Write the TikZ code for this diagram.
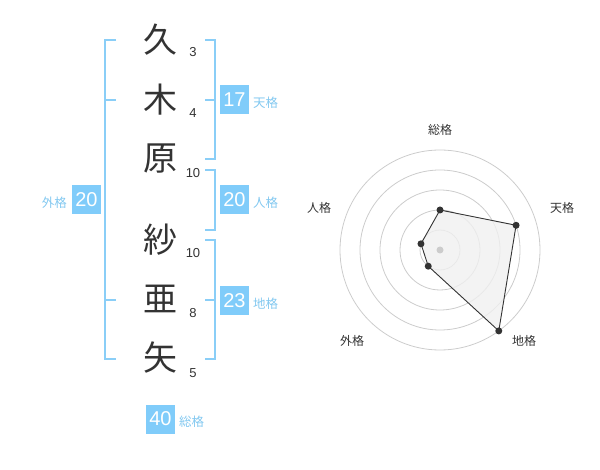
\documentclass[tikz,border=0pt]{standalone}
\usepackage{fontspec}
\usetikzlibrary{calc}
\setmainfont{Liberation Sans}
\newfontfamily\cjk{Noto Sans CJK JP}
\definecolor{boxblue}{RGB}{128,204,250}
\definecolor{brblue}{RGB}{138,206,247}
\definecolor{lblblue}{RGB}{130,200,240}
\definecolor{dark}{RGB}{51,51,51}
\definecolor{ring}{RGB}{204,204,204}
\definecolor{polyfill}{RGB}{240,240,240}
\begin{document}
\begin{tikzpicture}[x=1pt,y=-1pt,
  kanji/.style={font=\cjk\fontsize{34}{34}\selectfont, text=dark, inner sep=0pt},
  stroke/.style={font=\fontsize{13}{13}\selectfont, text=dark, inner sep=0pt},
  valbox/.style={fill=boxblue, text=white, minimum width=29pt, minimum height=29pt, inner sep=0pt, font=\fontsize{20}{20}\selectfont},
  kaku/.style={font=\cjk\fontsize{12.5}{12.5}\selectfont, text=lblblue, inner sep=0pt},
  bracket/.style={draw=brblue, line width=2pt},
  radlbl/.style={font=\cjk\fontsize{12}{12}\selectfont, text=dark, inner sep=0pt},
  dot/.style={circle, fill=dark, inner sep=0pt, minimum size=7pt},
]
\useasboundingbox (0,0) rectangle (600,470);
% characters
\node[kanji] (k1) at (160,40) {久};
\node[kanji] (k2) at (160,100) {木};
\node[kanji] (k3) at (160,159) {原};
\node[kanji] (k4) at (160,240) {紗};
\node[kanji] (k5) at (160,299) {亜};
\node[kanji] (k6) at (160,358) {矢};
% stroke counts
\node[stroke] (s1) at (193,52) {3};
\node[stroke] (s2) at (193,113) {4};
\node[stroke] (s3) at (193,173) {10};
\node[stroke] (s4) at (193,253) {10};
\node[stroke] (s5) at (193,313) {8};
\node[stroke] (s6) at (193,373) {5};
% left bracket (gaikaku)
\draw[bracket] (116,40) -- (105,40) -- (105,359) -- (116,359);
\draw[bracket] (105,100) -- (116,100);
\draw[bracket] (105,300) -- (116,300);
% right brackets
\draw[bracket] (205,40) -- (215,40) -- (215,159) -- (205,159);
\draw[bracket] (215,100) -- (205,100);
\draw[bracket] (205,170) -- (215,170) -- (215,230) -- (205,230);
\draw[bracket] (205,240) -- (215,240) -- (215,359) -- (205,359);
\draw[bracket] (215,300) -- (205,300);
% value boxes
\node[valbox] (b1) at (234.5,100) {17};
\node[kaku, anchor=west] (l1) at (253,103) {天格};
\node[valbox] (b2) at (234.5,200) {20};
\node[kaku, anchor=west] (l2) at (253,203) {人格};
\node[valbox] (b3) at (234.5,300.5) {23};
\node[kaku, anchor=west] (l3) at (253,304) {地格};
\node[valbox] (b4) at (86.5,200) {20};
\node[kaku, anchor=east] (l4) at (67,203) {外格};
\node[valbox] (b5) at (160.5,419) {40};
\node[kaku, anchor=west] (l5) at (179,422) {総格};
% radar
\coordinate (c) at (440,250);
\foreach \r in {20,40,60,80,100} \draw[ring, line width=0.8pt] (c) circle (\r);
\coordinate (p1) at ($(c)+(-90:40)$);
\coordinate (p2) at ($(c)+(-18:80)$);
\coordinate (p3) at ($(c)+(54:100)$);
\coordinate (p4) at ($(c)+(126:20)$);
\coordinate (p5) at ($(c)+(198:20)$);
\draw[dark, fill=polyfill, fill opacity=0.8, line width=0.9pt] (p1) -- (p2) -- (p3) -- (p4) -- (p5) -- cycle;
\fill[ring] (c) circle (3.5);
\foreach \p in {p1,p2,p3,p4,p5} \node[dot] at (\p) {};
\node[radlbl] (r1) at (440,130) {総格};
\node[radlbl] (r2) at (562,208) {天格};
\node[radlbl] (r3) at (524,341) {地格};
\node[radlbl] (r4) at (352,341) {外格};
\node[radlbl] (r5) at (319,208) {人格};
\end{tikzpicture}
\end{document}
